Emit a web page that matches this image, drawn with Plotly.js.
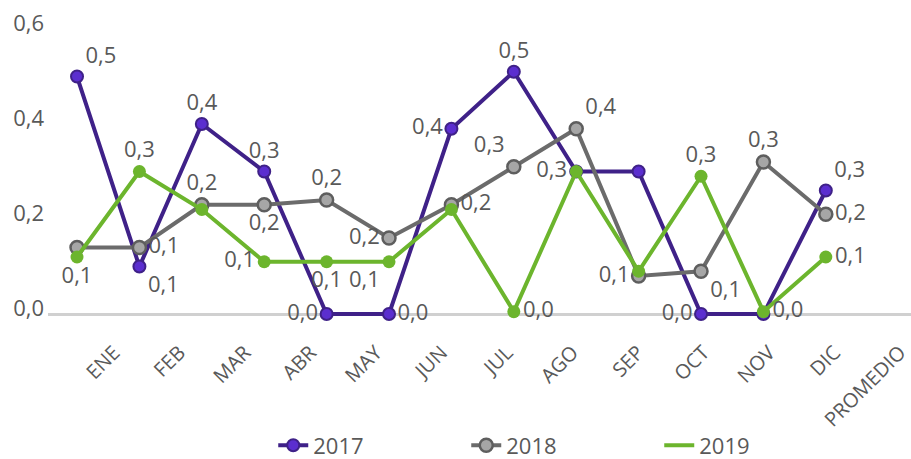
<!DOCTYPE html>
<html>
<head>
<meta charset="utf-8">
<script src="https://cdn.plot.ly/plotly-3.0.1.min.js"></script>
<style>html,body{margin:0;padding:0;background:#fff;}#chart{width:911px;height:459px;}</style>
</head>
<body>
<div id="chart"></div>
<script>
// Categories (x-axis)
const categories = ["ENE","FEB","MAR","ABR","MAY","JUN","JUL","AGO","SEP","OCT","NOV","DIC","PROMEDIO"];
// Series values
const s2017 = [0.50, 0.10, 0.40, 0.30, 0.00, 0.00, 0.39, 0.51, 0.30, 0.30, 0.00, 0.00, 0.26];
const s2018 = [0.14, 0.14, 0.23, 0.23, 0.24, 0.16, 0.23, 0.31, 0.39, 0.08, 0.09, 0.32, 0.21];
const s2019 = [0.12, 0.30, 0.22, 0.11, 0.11, 0.11, 0.22, 0.005, 0.30, 0.09, 0.29, 0.005, 0.12];
const seriesNames = ["2017", "2018", "2019"];
const yTickVals = [0, 0.2, 0.4, 0.6];

// Which data labels are visible, and where (style only)
const pos2017 = ["top right","bottom right","top center","top center","middle left","middle right","middle left","top center","","","middle left","","top right"];
const pos2018 = ["","middle right","top center","bottom center","top center","middle left","middle right","top left","top right","middle left","bottom right","top center","middle right"];
const pos2019 = ["bottom center","top center","","middle left","bottom center","bottom left","","middle right","middle left","","top center","middle right","middle right"];

const fmt = v => v.toFixed(1).replace('.', ',');
const labels = (vals, pos) => vals.map((v, i) => pos[i] ? fmt(v) : '');
const positions = pos => pos.map(p => p || 'top center');

const txtColor = '#595959';
const fontFam = '"Open Sans", "Noto Sans", sans-serif';

const traces = [
  {
    x: categories, y: s2017, name: seriesNames[0], type: 'scatter', mode: 'lines+markers+text',
    line: {color: '#3F2188', width: 4},
    marker: {size: 12, color: '#5B2ECF', line: {color: '#3F2188', width: 2}},
    text: labels(s2017, pos2017), textposition: positions(pos2017),
    textfont: {size: 22, color: txtColor, family: fontFam},
    cliponaxis: false, hoverinfo: 'skip'
  },
  {
    x: categories, y: s2018, name: seriesNames[1], type: 'scatter', mode: 'lines+markers+text',
    line: {color: '#6B6B6B', width: 4},
    marker: {size: 13, color: '#A6A6A6', line: {color: '#5E5E5E', width: 2.5}},
    text: labels(s2018, pos2018), textposition: positions(pos2018),
    textfont: {size: 22, color: txtColor, family: fontFam},
    cliponaxis: false, hoverinfo: 'skip'
  },
  {
    x: categories, y: s2019, name: seriesNames[2], type: 'scatter', mode: 'lines+markers+text',
    line: {color: '#6CB52D', width: 4},
    marker: {size: 13, color: '#6CB52D'},
    text: labels(s2019, pos2019), textposition: positions(pos2019),
    textfont: {size: 22, color: txtColor, family: fontFam},
    cliponaxis: false, hoverinfo: 'skip', showlegend: false, legendgroup: 'g2019'
  },
  {
    x: [null], y: [null], name: seriesNames[2], type: 'scatter', mode: 'lines',
    line: {color: '#6CB52D', width: 4}, legendgroup: 'g2019', hoverinfo: 'skip'
  },
  {
    x: categories, y: categories.map(() => null), xaxis: 'x2', type: 'scatter', mode: 'markers',
    showlegend: false, hoverinfo: 'skip'
  }
];

const layout = {
  width: 911, height: 459,
  margin: {l: 48, r: 0, t: 14, b: 139, autoexpand: false},
  paper_bgcolor: '#ffffff', plot_bgcolor: '#ffffff',
  separators: ', ',
  font: {family: fontFam, color: txtColor, size: 20},
  showlegend: true,
  xaxis: {
    type: 'category', categoryorder: 'array', categoryarray: categories,
    range: [-0.465, 13.365], showticklabels: false, showgrid: false, zeroline: false,
    showline: false, ticks: ''
  },
  xaxis2: {
    type: 'category', categoryorder: 'array', categoryarray: categories,
    overlaying: 'x', anchor: 'y', side: 'bottom',
    range: [-1.0076, 12.168], showgrid: false, zeroline: false, showline: false, ticks: '',
    tickangle: -45, ticklabelstandoff: 16,
    tickfont: {size: 20, color: txtColor, family: fontFam}
  },
  yaxis: {
    range: [-0.0126, 0.6316], tickvals: yTickVals, tickformat: '.1f',
    showgrid: false, zeroline: true, zerolinecolor: '#D0D0D0', zerolinewidth: 3,
    showline: false, ticks: '', ticklabelshift: -6, ticklabelstandoff: 3,
    tickfont: {size: 22, color: txtColor, family: fontFam}
  },
  legend: {
    orientation: 'h', x: 0.261, xanchor: 'left', y: -0.41, yanchor: 'middle',
    entrywidth: 148, entrywidthmode: 'pixels',
    font: {size: 22, color: txtColor, family: fontFam},
    bgcolor: 'rgba(0,0,0,0)'
  }
};

Plotly.newPlot('chart', traces, layout, {displayModeBar: false, staticPlot: true});
</script>
</body>
</html>
